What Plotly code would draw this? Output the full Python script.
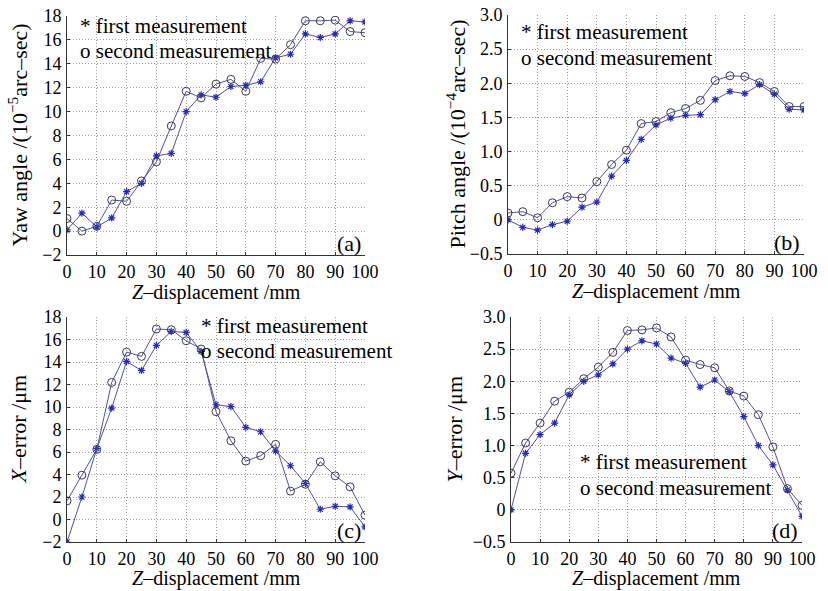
import plotly.graph_objects as go

W, H = 828, 591

z = list(range(0, 101, 5))

# (a) Yaw angle, 1e-5 arc-sec
yaw_first = [0.1, 1.5, 0.35, 1.1, 3.3, 4.0, 6.3, 6.5, 10.0, 11.4, 11.2, 12.1, 12.2, 12.5,
             14.5, 14.8, 16.5, 16.2, 16.5, 17.6, 17.5]
yaw_second = [1.05, 0.0, 0.4, 2.6, 2.5, 4.2, 5.8, 8.8, 11.7, 11.15, 12.3, 12.7, 11.7, 14.45,
              14.4, 15.6, 17.6, 17.6, 17.65, 16.7, 16.6]

# (b) Pitch angle, 1e-4 arc-sec
pitch_first = [0.0, -0.11, -0.15, -0.07, -0.02, 0.185, 0.26, 0.64, 0.87, 1.18, 1.39, 1.49,
               1.53, 1.54, 1.76, 1.88, 1.85, 1.98, 1.84, 1.62, 1.61]
pitch_second = [0.10, 0.12, 0.03, 0.25, 0.34, 0.32, 0.56, 0.81, 1.02, 1.41, 1.44, 1.57,
                1.63, 1.75, 2.04, 2.11, 2.10, 2.01, 1.88, 1.66, 1.66]

# (c) X-error, um
xerr_first = [-2.0, 2.0, 6.3, 9.9, 14.05, 13.25, 15.47, 16.72, 16.63, 14.94, 10.2, 10.04,
              8.19, 7.8, 6.08, 4.78, 3.2, 0.91, 1.18, 1.12, -0.66]
xerr_second = [1.66, 3.94, 6.23, 12.18, 14.88, 14.5, 16.93, 16.87, 15.89, 15.15, 9.59, 7.0,
               5.19, 5.67, 6.68, 2.52, 3.14, 5.13, 3.88, 2.9, 0.38]

# (d) Y-error, um
yerr_first = [0.0, 0.88, 1.17, 1.35, 1.79, 2.0, 2.10, 2.27, 2.50, 2.63, 2.58, 2.36, 2.28,
              1.91, 2.02, 1.84, 1.45, 1.0, 0.70, 0.31, -0.10]
yerr_second = [0.57, 1.04, 1.35, 1.69, 1.83, 2.04, 2.22, 2.45, 2.79, 2.80, 2.83, 2.69, 2.33,
               2.26, 2.21, 1.85, 1.77, 1.48, 0.98, 0.33, 0.07]

x_ticks = list(range(0, 101, 10))
y_ticks_big = list(range(-2, 19, 2))
y_ticks_small = [-0.5, 0, 0.5, 1.0, 1.5, 2.0, 2.5, 3.0]
y_text_small = ["\u22120.5", "0", "0.5", "1.0", "1.5", "2.0", "2.5", "3.0"]

panels = [
    dict(first=yaw_first, second=yaw_second, box=(67, 16, 365, 255), yr=[-2, 18],
         yt=y_ticks_big, ytt=None, label="(a)",
         ytitle="Yaw angle /(10<sup>\u22125</sup>arc\u2013sec)", ytx=17,
         leg=(78, 26, 51), xto=37),
    dict(first=pitch_first, second=pitch_second, box=(508, 15, 804, 254), yr=[-0.5, 3.0],
         yt=y_ticks_small, ytt=y_text_small, label="(b)",
         ytitle="Pitch angle /(10<sup>\u22124</sup>arc\u2013sec)", ytx=455,
         leg=(519, 32, 58), xto=37),
    dict(first=xerr_first, second=xerr_second, box=(67, 317, 365, 542), yr=[-2, 18],
         yt=y_ticks_big, ytt=None, label="(c)",
         ytitle="<i>X</i>\u2013error /\u03bcm", ytx=18,
         leg=(199, 326, 351), xto=36),
    dict(first=yerr_first, second=yerr_second, box=(511, 317, 802, 542), yr=[-0.5, 3.0],
         yt=y_ticks_small, ytt=y_text_small, label="(d)",
         ytitle="<i>Y</i>\u2013error /\u03bcm", ytx=454,
         leg=(578, 462, 488), xto=36),
]

FONT = "Liberation Serif"
TXT = 22
XT = 20
LEG = 21
TICK = 18
LINE_COLOR = "#50509a"
STAR_COLOR = "#2b2bb0"
CIRC_COLOR = "#3a3a55"

fig = go.Figure()
annotations = []
layout_axes = {}

for i, p in enumerate(panels, start=1):
    x0, y0, x1, y1 = p["box"]
    xa = "x" if i == 1 else f"x{i}"
    ya = "y" if i == 1 else f"y{i}"
    fig.add_trace(go.Scatter(
        x=z, y=p["first"], mode="lines+markers", xaxis=xa, yaxis=ya,
        name="first measurement", showlegend=False,
        line=dict(color=LINE_COLOR, width=1),
        marker=dict(symbol="asterisk-open", size=6,
                    line=dict(color=STAR_COLOR, width=1.2), color=STAR_COLOR),
    ))
    fig.add_trace(go.Scatter(
        x=z, y=p["second"], mode="lines+markers", xaxis=xa, yaxis=ya,
        name="second measurement", showlegend=False,
        line=dict(color=LINE_COLOR, width=1),
        marker=dict(symbol="circle-open", size=8,
                    line=dict(color=CIRC_COLOR, width=1), color=CIRC_COLOR),
    ))
    xkey = "xaxis" if i == 1 else f"xaxis{i}"
    ykey = "yaxis" if i == 1 else f"yaxis{i}"
    common = dict(showgrid=True, gridcolor="#9a9a9a", griddash="1px,2px", gridwidth=1,
                  showline=True, linecolor="#333333", linewidth=1, zeroline=False,
                  ticks="inside", ticklen=3, tickcolor="#333333", automargin=False,
                  tickfont=dict(family=FONT, size=TICK, color="black"))
    layout_axes[xkey] = dict(common, domain=[x0 / W, x1 / W], range=[0, 100],
                             tickvals=x_ticks, anchor=ya, tickangle=0,
                             ticklabelstandoff=0)
    ydict = dict(common, domain=[1 - y1 / H, 1 - y0 / H], range=p["yr"],
                 tickvals=p["yt"], anchor=xa, ticklabelstandoff=1)
    if p["ytt"] is not None:
        ydict["ticktext"] = p["ytt"]
    layout_axes[ykey] = ydict

    # axis titles
    annotations.append(dict(
        text="<i>Z</i>\u2013displacement /mm", xref="paper", yref="paper",
        x=(x0 + x1) / 2 / W, y=1 - (y1 + p["xto"]) / H, xanchor="center",
        yanchor="middle", showarrow=False,
        font=dict(family=FONT, size=XT, color="black")))
    annotations.append(dict(
        text=p["ytitle"], xref="paper", yref="paper", textangle=-90,
        x=p["ytx"] / W, y=1 - (y0 + y1) / 2 / H, xanchor="center", yanchor="middle",
        showarrow=False, font=dict(family=FONT, size=TXT, color="black")))
    # panel label
    annotations.append(dict(
        text=p["label"], xref="paper", yref="paper",
        x=(x1 - 2) / W, y=1 - (y1 - 12) / H, xanchor="right", yanchor="middle",
        showarrow=False, font=dict(family=FONT, size=TXT, color="black")))
    # legend text
    lx, ly1, ly2 = p["leg"]
    annotations.append(dict(
        text="* first measurement", xref="paper", yref="paper",
        x=lx / W, y=1 - ly1 / H, xanchor="left", yanchor="middle",
        showarrow=False, font=dict(family=FONT, size=LEG, color="black")))
    annotations.append(dict(
        text="o second measurement", xref="paper", yref="paper",
        x=lx / W, y=1 - ly2 / H, xanchor="left", yanchor="middle",
        showarrow=False, font=dict(family=FONT, size=LEG, color="black")))

fig.update_layout(
    width=W, height=H,
    margin=dict(l=0, r=0, t=0, b=0),
    paper_bgcolor="white", plot_bgcolor="white",
    annotations=annotations,
    font=dict(family=FONT, color="black"),
    **layout_axes,
)

fig.write_html("out.html",
               config={"displayModeBar": False},
               post_script="document.body.style.margin='0';"
                           "document.body.style.overflow='hidden';")
